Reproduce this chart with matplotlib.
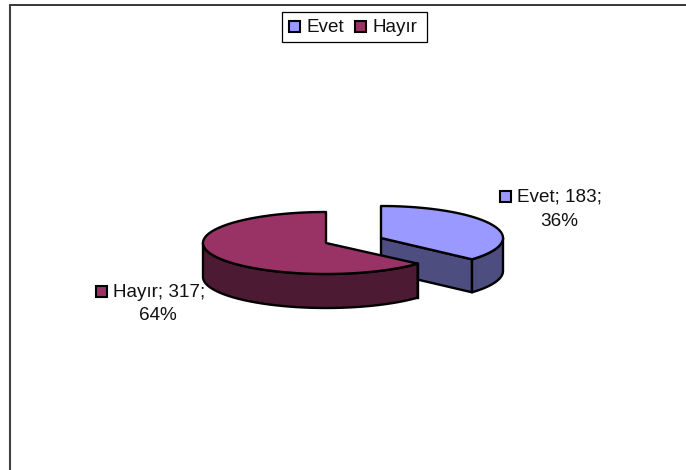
import numpy as np
import matplotlib
matplotlib.use("Agg")
import matplotlib.pyplot as plt
from matplotlib.patches import Polygon, Rectangle

categories = ["Evet", "Hayır"]
values = [183, 317]
percents = ["36%", "64%"]
top_colors = ["#9999FF", "#993366"]
side_colors = ["#4D4D80", "#4D1A33"]

W, H = 686, 470
plt.rcParams['font.family'] = ['Liberation Sans', 'DejaVu Sans']
fig = plt.figure(figsize=(W / 100, H / 100), dpi=100)
ax = fig.add_axes([0, 0, 1, 1])
ax.set_xlim(0, W)
ax.set_ylim(H, 0)
ax.axis("off")

LW = 1.7
FS = 13.6
ax.plot([9, W + 1], [4.5, 4.5], color="black", lw=1.1, solid_capstyle="butt")
ax.plot([10, 10], [4, H + 1], color="#404040", lw=1.5, solid_capstyle="butt")

fracs = np.array(values) / sum(values)
starts = np.concatenate([[0], np.cumsum(fracs)[:-1]]) * 2 * np.pi
ends = np.cumsum(fracs) * 2 * np.pi
centers = [(381, 238), (326, 243)]
rx, ry, depth = [122, 123], [32, 31], [33, 34]


def pt(c, a, rx_, ry_, dy=0):
    return c[0] + rx_ * np.sin(a), c[1] - ry_ * np.cos(a) + dy


for i in [0, 1]:
    c, a0, a1, rx_, ry_, d = centers[i], starts[i], ends[i], rx[i], ry[i], depth[i]
    t = np.linspace(a0, a1, 200)
    x, y = pt(c, t, rx_, ry_)
    # visible outer wall: the front half of the rim
    lo, hi = max(a0, np.pi / 2), min(a1, 3 * np.pi / 2)
    tw = np.linspace(lo, hi, 150)
    wx, wy = pt(c, tw, rx_, ry_)
    wall = np.c_[np.r_[wx, wx[::-1]], np.r_[wy, wy[::-1] + d]]
    # visible cut face
    if i == 0:
        ex, ey = pt(c, a1, rx_, ry_)
        cut = [(c[0], c[1]), (ex, ey), (ex, ey + d), (c[0], c[1] + d)]
        ax.add_patch(Polygon(cut, closed=True, fc=side_colors[i], ec="black", lw=LW, joinstyle="round", zorder=2 + i))
    else:
        sx, sy = pt(c, a0, rx_, ry_)
        ax.plot([sx, sx], [sy, sy + d], color="black", lw=LW, zorder=4)
    ax.add_patch(Polygon(wall, closed=True, fc=side_colors[i], ec="black", lw=LW, joinstyle="round", zorder=2 + i))
    top = np.c_[np.r_[c[0], x], np.r_[c[1], y]]
    ax.add_patch(Polygon(top, closed=True, fc=top_colors[i], ec="black", lw=LW, joinstyle="round", zorder=2 + i))


def swatch(x, y, color, zorder=6):
    ax.add_patch(Rectangle((x, y), 11, 11, fc=color, ec="black", lw=1.5, zorder=zorder))


# legend box
ax.add_patch(Rectangle((281.5, 12), 145, 30, fc="white", ec="black", lw=0.9, zorder=5))
swatch(289, 21, top_colors[0])
ax.text(306, 27.5, categories[0], fontsize=FS, va="center", ha="left", color="#111111", zorder=6)
swatch(354.5, 21, top_colors[1])
ax.text(372, 27.5, categories[1], fontsize=FS, va="center", ha="left", color="#111111", zorder=6)

# data labels
swatch(500, 191, top_colors[0])
ax.text(517, 197.5, f"{categories[0]}; {values[0]};", fontsize=FS, va="center", ha="left", color="#111111")
ax.text(559, 222, percents[0], fontsize=FS, va="center", ha="center", color="#111111")
swatch(96, 286, top_colors[1])
ax.text(113, 292.5, f"{categories[1]}; {values[1]};", fontsize=FS, va="center", ha="left", color="#111111")
ax.text(158, 316, percents[1], fontsize=FS, va="center", ha="center", color="#111111")

fig.savefig("out.png", dpi=100, facecolor="white")
